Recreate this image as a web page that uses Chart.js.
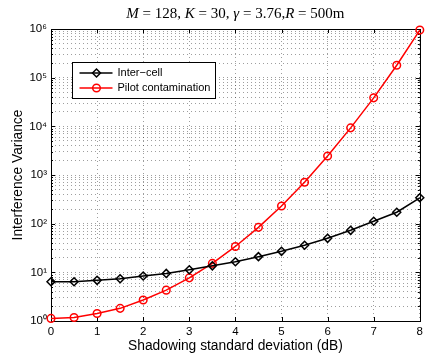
<!DOCTYPE html>
<html lang="en">
<head>
<meta charset="UTF-8">
<title>Interference Variance vs Shadowing</title>
<script src="https://cdn.jsdelivr.net/npm/chart.js@4.4.1/dist/chart.umd.min.js"></script>
<style>
  html, body { margin: 0; padding: 0; background: #fff; }
</style>
</head>
<body>
<canvas id="myChart" width="427" height="356"></canvas>
<script>
// shadowing std deviation (dB)
var sigma = [0, 0.5, 1, 1.5, 2, 2.5, 3, 3.5, 4, 4.5, 5, 5.5, 6, 6.5, 7, 7.5, 8];
// values
var interCell = [6.4, 6.4, 6.85, 7.4, 8.4, 9.5, 11.3, 13.6, 16.5, 21, 27, 36, 50, 73, 112, 172, 340];
var pilotContam = [1.13, 1.18, 1.43, 1.82, 2.7, 4.3, 7.7, 15.3, 34, 84, 230, 710, 2450, 9300, 38500, 180000, 950000];

var seriesNames = ['Inter\u2212cell', 'Pilot contamination'];
var xLabel = 'Shadowing standard deviation (dB)';
var yLabel = 'Interference Variance';
var xTickStep = 1;
var yDecades = [0, 1, 2, 3, 4, 5, 6];
// title pieces: [text, italic?]
var titleParts = [['M', true], [' = 128, ', false], ['K', true], [' = 30, ', false],
                  ['\u03b3', true], [' = 3.76,', false], ['R', true], [' = 500m', false]];

var SUP = ['\u2070', '\u00b9', '\u00b2', '\u00b3', '\u2074', '\u2075', '\u2076', '\u2077', '\u2078', '\u2079'];
var sansFont = '"Liberation Sans", Arial, sans-serif';
var gridColor = 'rgba(0,0,0,0.38)';

// minor + major log ticks
function logTicks() {
    var t = [];
    for (var i = 0; i < yDecades.length - 1; i++) {
        for (var k = 1; k < 10; k++) t.push({ value: k * Math.pow(10, yDecades[i]) });
    }
    t.push({ value: Math.pow(10, yDecades[yDecades.length - 1]) });
    return t;
}

function isDecade(v) {
    var e = Math.log10(v);
    return Math.abs(e - Math.round(e)) < 1e-9;
}

// box, inward tick marks (matlab style), title and legend
var axesBox = {
    id: 'axesBox',
    beforeDatasetsDraw: function(chart) {
        var ctx = chart.ctx, a = chart.chartArea;
        var xs = chart.scales.x, ys = chart.scales.y;
        ctx.save();
        ctx.strokeStyle = '#000';
        ctx.lineWidth = 1;
        ctx.beginPath();
        xs.ticks.forEach(function(t) {
            var px = Math.round(xs.getPixelForValue(t.value)) + 0.5;
            ctx.moveTo(px, a.bottom); ctx.lineTo(px, a.bottom - 4);
            ctx.moveTo(px, a.top); ctx.lineTo(px, a.top + 4);
        });
        ys.ticks.forEach(function(t) {
            var py = Math.round(ys.getPixelForValue(t.value)) + 0.5;
            var len = isDecade(t.value) ? 4 : 2;
            ctx.moveTo(a.left, py); ctx.lineTo(a.left + len, py);
            ctx.moveTo(a.right, py); ctx.lineTo(a.right - len, py);
        });
        ctx.stroke();
        ctx.strokeRect(Math.round(a.left) + 0.5, Math.round(a.top) + 0.5,
                       Math.round(a.right - a.left), Math.round(a.bottom - a.top));
        ctx.restore();
    },
    afterDraw: function(chart) {
        var ctx = chart.ctx, a = chart.chartArea;
        ctx.save();

        // title with italic symbols
        var fs = 15;
        var serif = 'px "Liberation Serif", "Times New Roman", serif';
        var widths = titleParts.map(function(p) {
            ctx.font = (p[1] ? 'italic ' : '') + fs + serif;
            return ctx.measureText(p[0]).width;
        });
        var total = widths.reduce(function(s, w) { return s + w; }, 0);
        var x = (a.left + a.right) / 2 - total / 2;
        ctx.fillStyle = '#000';
        ctx.textBaseline = 'middle';
        ctx.textAlign = 'left';
        titleParts.forEach(function(p, i) {
            ctx.font = (p[1] ? 'italic ' : '') + fs + serif;
            ctx.fillText(p[0], x, 14.5);
            x += widths[i];
        });

        // legend inside the axes
        ctx.font = '11px ' + sansFont;
        var tw = Math.max.apply(null, seriesNames.map(function(s) { return ctx.measureText(s).width; }));
        var bx = Math.round(a.left) + 21.5, by = Math.round(a.top) + 33.5;
        var bw = Math.round(45 + tw + 5), bh = 36;
        ctx.fillStyle = '#fff';
        ctx.fillRect(bx, by, bw, bh);
        ctx.strokeStyle = '#000';
        ctx.lineWidth = 1;
        ctx.strokeRect(bx, by, bw, bh);
        chart.data.datasets.forEach(function(ds, i) {
            var ry = by + 10.5 + i * 15;
            ctx.strokeStyle = ds.borderColor;
            ctx.lineWidth = ds.borderWidth;
            ctx.beginPath();
            ctx.moveTo(bx + 7, ry); ctx.lineTo(bx + 40, ry);
            ctx.stroke();
            ctx.fillStyle = 'rgba(0,0,0,0)';
            Chart.helpers.drawPoint(ctx, {
                pointStyle: ds.pointStyle, radius: ds.pointRadius, borderWidth: ds.pointBorderWidth
            }, bx + 24, ry);
            ctx.fillStyle = '#000';
            ctx.textBaseline = 'middle';
            ctx.fillText(seriesNames[i], bx + 45, ry);
        });
        ctx.restore();
    }
};

var ctx = document.getElementById('myChart').getContext('2d');
var myChart = new Chart(ctx, {
    type: 'line',
    data: {
        datasets: [{
            label: seriesNames[0],
            data: sigma.map(function(s, i) { return { x: s, y: interCell[i] }; }),
            borderColor: '#000000',
            borderWidth: 1.5,
            pointStyle: 'rectRot',
            pointRadius: 4,
            pointBorderWidth: 1.5,
            pointBackgroundColor: 'rgba(0,0,0,0)',
            pointBorderColor: '#000000',
            tension: 0,
            clip: false
        }, {
            label: seriesNames[1],
            data: sigma.map(function(s, i) { return { x: s, y: pilotContam[i] }; }),
            borderColor: '#ff0000',
            borderWidth: 1.5,
            pointStyle: 'circle',
            pointRadius: 3.8,
            pointBorderWidth: 1.5,
            pointBackgroundColor: 'rgba(0,0,0,0)',
            pointBorderColor: '#ff0000',
            tension: 0,
            clip: false
        }]
    },
    options: {
        responsive: false,
        animation: false,
        devicePixelRatio: 1,
        layout: { padding: { left: 0, right: 4, top: 29, bottom: 0 } },
        plugins: {
            legend: { display: false },
            tooltip: { enabled: false }
        },
        scales: {
            x: {
                type: 'linear',
                min: sigma[0],
                max: sigma[sigma.length - 1],
                ticks: { stepSize: xTickStep, color: '#000', font: { family: sansFont, size: 11.5 }, padding: 4, maxRotation: 0 },
                grid: { color: gridColor, lineWidth: 1, drawTicks: false },
                border: { display: false, dash: [1, 3] },
                title: { display: true, text: xLabel, color: '#000', font: { family: sansFont, size: 13.8 }, padding: { top: 0, bottom: 1.2 } },
                afterFit: function(s) { s.height = 35; }
            },
            y: {
                type: 'logarithmic',
                min: Math.pow(10, yDecades[0]),
                max: Math.pow(10, yDecades[yDecades.length - 1]),
                afterBuildTicks: function(s) { s.ticks = logTicks(); },
                ticks: {
                    autoSkip: false,
                    color: '#000',
                    font: { family: sansFont, size: 11.5 },
                    padding: 4,
                    callback: function(v) {
                        if (!isDecade(v)) return '';
                        return '10' + SUP[Math.round(Math.log10(v))];
                    }
                },
                grid: { color: gridColor, lineWidth: 1, drawTicks: false },
                border: { display: false, dash: [1, 3] },
                title: { display: true, text: yLabel, color: '#000', font: { family: sansFont, size: 13.8 }, padding: { top: 9.7, bottom: 0 } },
                afterFit: function(s) { s.width = 51; }
            }
        }
    },
    plugins: [axesBox]
});
</script>
</body>
</html>
